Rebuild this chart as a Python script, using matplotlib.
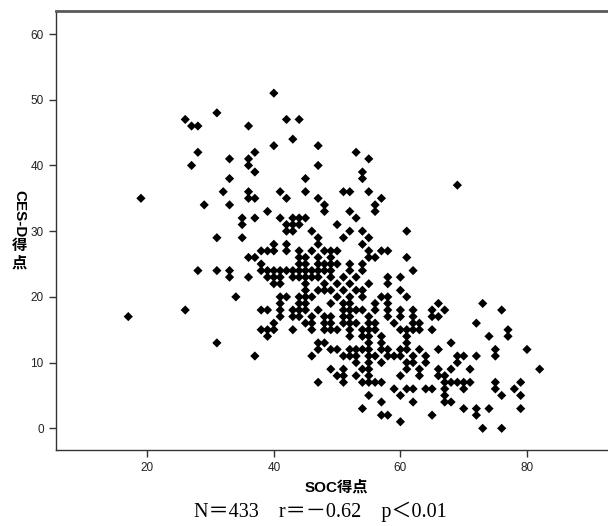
import matplotlib
matplotlib.use("Agg")
import matplotlib.pyplot as plt

# SOC得点 (x) と CES-D得点 (y)、CES-D の値ごとに1行
soc = [
    40,                                                   # 51
    31,                                                   # 48
    26, 42, 44,                                           # 47
    27, 28, 36,                                           # 46
    43,                                                   # 44
    40, 47,                                               # 43
    28, 37, 53,                                           # 42
    33, 36, 55,                                           # 41
    27, 36, 47,                                           # 40
    37, 54,                                               # 39
    33, 45, 54,                                           # 38
    69,                                                   # 37
    32, 36, 41, 45, 51, 52, 55,                           # 36
    19, 36, 37, 42, 47, 57,                               # 35
    29, 33, 48, 56,                                       # 34
    39, 48, 52, 56,                                       # 33
    35, 37, 41, 43, 44, 45, 53,                           # 32
    35, 42, 43, 44, 50,                                   # 31
    42, 43, 46, 52, 54, 61,                               # 30
    31, 35, 47, 51, 55,                                   # 29
    40, 42, 47, 54,                                       # 28
    38, 39, 40, 42, 44, 46, 48, 49, 50, 55, 57, 58,       # 27
    36, 37, 44, 45, 47, 49, 55, 56, 61,                   # 26
    38, 44, 45, 47, 48, 49, 50, 52, 54,                   # 25
    28, 31, 33, 38, 39, 40, 41, 42, 43, 44, 45, 46, 47, 48, 49, 52, 54, 62,  # 24
    33, 36, 39, 40, 41, 43, 44, 45, 46, 47, 49, 51, 53, 58, 60,  # 23
    40, 41, 45, 48, 50, 52, 55, 58,                       # 22
    45, 47, 48, 49, 51, 53, 54, 60,                       # 21
    34, 41, 42, 44, 45, 46, 50, 52, 54, 57, 58, 61,       # 20
    41, 44, 45, 49, 51, 52, 56, 58, 66, 73,               # 19
    26, 38, 39, 41, 43, 44, 45, 47, 51, 52, 53, 54, 56, 58, 60, 62, 65, 67, 76,  # 18
    17, 41, 43, 44, 46, 48, 49, 51, 52, 55, 58, 60, 62, 65, 66,  # 17
    40, 45, 46, 48, 49, 51, 52, 53, 55, 56, 59, 62, 63, 72,  # 16
    38, 39, 40, 43, 46, 48, 49, 50, 52, 54, 55, 56, 60, 61, 62, 63, 65, 77,  # 15
    39, 52, 54, 55, 57, 61, 74, 77,                       # 14
    31, 47, 48, 55, 57, 61, 68,                           # 13
    47, 49, 50, 52, 53, 54, 55, 57, 58, 60, 61, 63, 66, 75, 80,  # 12
    37, 46, 51, 52, 53, 55, 56, 58, 59, 60, 62, 64, 69, 70, 72, 75,  # 11
    53, 55, 57, 61, 62, 64, 69,                           # 10
    49, 51, 54, 55, 61, 63, 66, 68, 71, 82,               # 9
    50, 51, 53, 55, 60, 63, 66, 67,                       # 8
    47, 51, 54, 55, 56, 57, 67, 68, 69, 70, 71, 75, 79,   # 7
    59, 61, 62, 64, 65, 67, 70, 75, 78,                   # 6
    55, 60, 67, 76, 79,                                   # 5
    57, 62, 67, 68,                                       # 4
    54, 70, 72, 74, 79,                                   # 3
    57, 58, 65, 72,                                       # 2
    60,                                                   # 1
    73, 76,                                               # 0
]

cesd = [
    51,
    48,
    47, 47, 47,
    46, 46, 46,
    44,
    43, 43,
    42, 42, 42,
    41, 41, 41,
    40, 40, 40,
    39, 39,
    38, 38, 38,
    37,
    36, 36, 36, 36, 36, 36, 36,
    35, 35, 35, 35, 35, 35,
    34, 34, 34, 34,
    33, 33, 33, 33,
    32, 32, 32, 32, 32, 32, 32,
    31, 31, 31, 31, 31,
    30, 30, 30, 30, 30, 30,
    29, 29, 29, 29, 29,
    28, 28, 28, 28,
    27, 27, 27, 27, 27, 27, 27, 27, 27, 27, 27, 27,
    26, 26, 26, 26, 26, 26, 26, 26, 26,
    25, 25, 25, 25, 25, 25, 25, 25, 25,
    24, 24, 24, 24, 24, 24, 24, 24, 24, 24, 24, 24, 24, 24, 24, 24, 24, 24,
    23, 23, 23, 23, 23, 23, 23, 23, 23, 23, 23, 23, 23, 23, 23,
    22, 22, 22, 22, 22, 22, 22, 22,
    21, 21, 21, 21, 21, 21, 21, 21,
    20, 20, 20, 20, 20, 20, 20, 20, 20, 20, 20, 20,
    19, 19, 19, 19, 19, 19, 19, 19, 19, 19,
    18, 18, 18, 18, 18, 18, 18, 18, 18, 18, 18, 18, 18, 18, 18, 18, 18, 18, 18,
    17, 17, 17, 17, 17, 17, 17, 17, 17, 17, 17, 17, 17, 17, 17,
    16, 16, 16, 16, 16, 16, 16, 16, 16, 16, 16, 16, 16, 16,
    15, 15, 15, 15, 15, 15, 15, 15, 15, 15, 15, 15, 15, 15, 15, 15, 15, 15,
    14, 14, 14, 14, 14, 14, 14, 14,
    13, 13, 13, 13, 13, 13, 13,
    12, 12, 12, 12, 12, 12, 12, 12, 12, 12, 12, 12, 12, 12, 12,
    11, 11, 11, 11, 11, 11, 11, 11, 11, 11, 11, 11, 11, 11, 11, 11,
    10, 10, 10, 10, 10, 10, 10,
    9, 9, 9, 9, 9, 9, 9, 9, 9, 9,
    8, 8, 8, 8, 8, 8, 8, 8,
    7, 7, 7, 7, 7, 7, 7, 7, 7, 7, 7, 7, 7,
    6, 6, 6, 6, 6, 6, 6, 6, 6,
    5, 5, 5, 5, 5,
    4, 4, 4, 4,
    3, 3, 3, 3, 3,
    2, 2, 2, 2,
    1,
    0, 0,
]

x_ticks = [20, 40, 60, 80]
y_ticks = [0, 10, 20, 30, 40, 50, 60]
x_label = "SOC得点"
y_label_latin = "CES-D"
y_label_kanji = ["得", "点"]
note = "N＝433　r＝－0.62　p＜0.01"

sans = ["Liberation Sans", "Noto Sans CJK JP"]
serif = ["Liberation Serif", "Noto Sans CJK JP"]

fig = plt.figure(figsize=(6.08, 5.26), dpi=100)
ax = fig.add_axes([55.5 / 608, 76 / 526, 1 - 55.5 / 608, 439 / 526])

ax.scatter(soc, cesd, marker="D", s=22, c="black", edgecolors="none")

ax.set_xlim(5.5, 92.8)
ax.set_ylim(-3.3, 63.5)
ax.set_xticks(x_ticks)
ax.set_yticks(y_ticks)
ax.tick_params(direction="out", length=5, width=1, colors="#333333",
               labelsize=8.5, labelcolor="#222222")
for lab in ax.get_xticklabels() + ax.get_yticklabels():
    lab.set_family(sans)

ax.spines["right"].set_visible(False)
ax.spines["top"].set_color("#5a5a5a")
ax.spines["top"].set_linewidth(2)
for side in ("left", "bottom"):
    ax.spines[side].set_color("#333333")
    ax.spines[side].set_linewidth(1)

# x軸ラベル
fig.text(336 / 608, 1 - 487 / 526, x_label, ha="center", va="center",
         family=sans, fontsize=11, fontweight="bold")

# 縦書き風のy軸ラベル（英字は回転、漢字は正立）
fig.text(19.5 / 608, 1 - 214 / 526, y_label_latin, rotation=270, ha="center",
         va="center", family=sans, fontsize=11, fontweight="bold")
for i, ch in enumerate(y_label_kanji):
    fig.text(19.5 / 608, 1 - (246 + i * 17) / 526, ch, ha="center", va="center",
             family=sans, fontsize=11, fontweight="bold")

fig.text(320 / 608, 1 - 512 / 526, note, ha="center", va="center",
         family=serif, fontsize=14.5)

fig.savefig("out.png", dpi=100)
